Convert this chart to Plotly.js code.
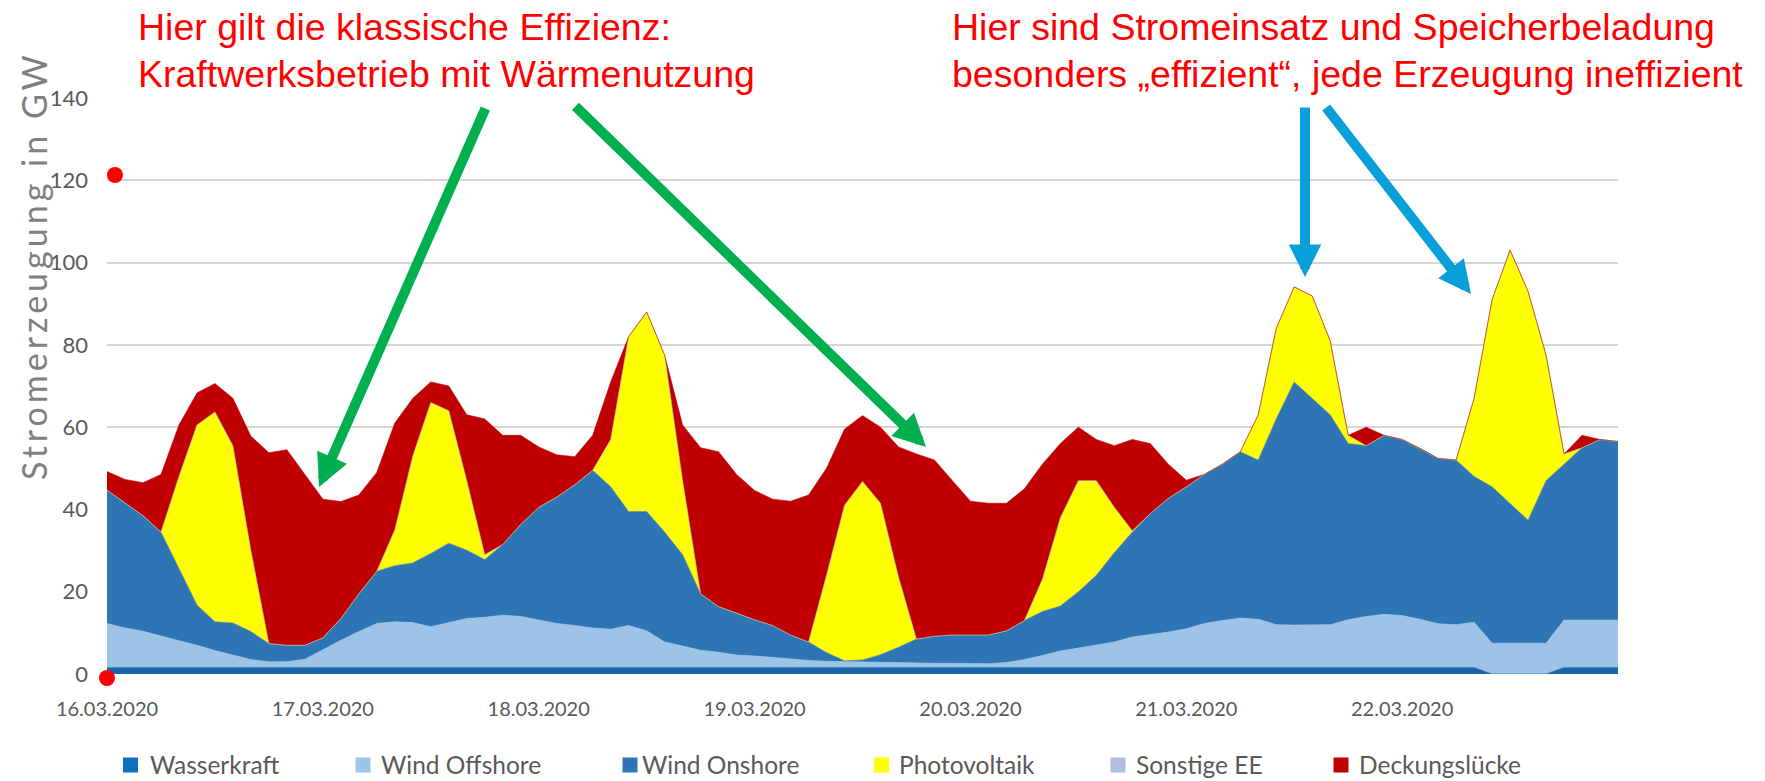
<!DOCTYPE html>
<html>
<head>
<meta charset="utf-8">
<script src="https://cdn.plot.ly/plotly-3.0.1.min.js"></script>
<style>
html, body { margin: 0; padding: 0; background: #ffffff; }
#chart { width: 1765px; height: 781px; }
g.annotation[data-index="8"] text { letter-spacing: 4px; }
</style>
</head>
<body>
<div id="chart"></div>
<script>
// ---- Data (2-hourly values, 16.03.2020 00:00 ... 23.03.2020 00:00), GW ----
const dayTicks  = ['2020-03-16', '2020-03-17', '2020-03-18', '2020-03-19', '2020-03-20', '2020-03-21', '2020-03-22'];
const dayLabels = ['16.03.2020', '17.03.2020', '18.03.2020', '19.03.2020', '20.03.2020', '21.03.2020', '22.03.2020'];
const seriesNames = ['Wasserkraft', 'Wind Offshore', 'Wind Onshore', 'Photovoltaik', 'Sonstige EE', 'Deckungslücke'];

const wasserkraft = [
  1.6,1.6,1.6,1.6,1.6,1.6,1.6,1.6,1.6,1.6,1.6,1.6,
  1.6,1.6,1.6,1.6,1.6,1.6,1.6,1.6,1.6,1.6,1.6,1.6,
  1.6,1.6,1.6,1.6,1.6,1.6,1.6,1.6,1.6,1.6,1.6,1.6,
  1.6,1.6,1.6,1.6,1.6,1.6,1.6,1.6,1.6,1.6,1.6,1.6,
  1.6,1.6,1.6,1.6,1.6,1.6,1.6,1.6,1.6,1.6,1.6,1.6,
  1.6,1.6,1.6,1.6,1.6,1.6,1.6,1.6,1.6,1.6,1.6,1.6,
  1.6,1.6,1.6,1.6,1.6,0,0,0,0,1.6,1.6,1.6,
  1.6
];
const windOffshore = [
  10.7,9.6,8.8,7.6,6.5,5.4,4.1,3.0,1.9,1.4,1.4,2.0,
  4.4,6.6,8.7,10.7,11.1,10.9,9.9,10.9,11.9,12.2,12.7,12.4,
  11.6,10.7,10.2,9.6,9.3,10.2,8.9,6.2,5.2,4.2,3.7,3.0,
  2.8,2.4,2.0,1.7,1.5,1.4,1.3,1.2,1.1,1.1,1.0,1.0,
  0.9,0.9,1.2,1.9,2.9,4.0,4.7,5.4,6.2,7.4,8.0,8.6,
  9.4,10.7,11.4,12.0,11.7,10.4,10.3,10.3,10.4,11.6,12.4,12.9,
  12.6,11.7,10.6,10.4,11.0,7.5,7.5,7.5,7.5,11.5,11.5,11.5,
  11.5
];
const windOnshore = [
  32.4,30.3,28.1,25.3,17.4,9.8,7.0,7.8,6.8,4.4,4.0,3.4,
  2.8,5.3,9.2,12.7,13.6,14.5,17.8,19.3,16.6,14.0,17.2,22.4,
  27.3,30.7,34.2,38.3,34.6,27.7,29.0,26.7,22.2,13.7,11.1,10.2,
  8.8,7.8,5.9,4.5,2.1,0.2,0.5,1.9,3.8,5.8,6.6,6.9,
  7.0,7.0,7.7,9.5,10.7,10.9,13.7,17.0,21.7,25.5,29.4,32.5,
  34.5,36.2,38.0,40.4,38.7,50.0,59.1,55.1,51.0,42.8,41.5,43.5,
  42.8,41.5,40.2,40.0,35.4,38.0,34.0,29.9,39.5,37.9,41.9,43.9,
  43.4
];
const photovoltaik = [
  0,0,0,0,22.5,43.7,51.0,43.1,19.7,0,0,0,
  0,0,0,0,8.7,26.0,36.7,32.2,16.9,1.2,0,0,
  0,0,0,0,11.5,42.5,48.5,43.0,18.0,0,0,0,
  0,0,0,0,18.8,37.8,43.4,36.8,17.1,0,0,0,
  0,0,0,0,7.8,21.5,27.0,23.0,11.0,0.3,0,0,
  0,0,0,0,11.0,22.0,23.1,24.9,18.0,2.0,0,0,
  0,0,0,0,19.0,45.5,61.5,55.6,30.5,2.5,0,0,
  0
];
const sonstigeEE = [
  0,0,0,0,0,0,0,0,0,0,0,0,
  0,0,0,0,0,0,0,0,0,0,0,0,
  0,0,0,0,0,0,0,0,0,0,0,0,
  0,0,0,0,0,0,0,0,0,0,0,0,
  0,0,0,0,0,0,0,0,0,0,0,0,
  0,0,0,0,0,0,0,0,0,0,0,0,
  0,0,0,0,0,0,0,0,0,0,0,0,
  0
];
const deckungsluecke = [
  4.5,5.8,8.0,14.0,12.5,7.8,6.9,11.5,27.8,46.4,47.5,41.5,
  33.7,28.4,24.0,24.0,26.0,14.0,5.0,6.0,16.0,33.0,26.5,21.6,
  14.7,10.3,6.8,8.5,14.0,0,0,0,13.5,35.5,37.6,33.7,
  31.4,30.7,32.5,35.7,26.0,18.5,16.0,18.5,31.6,45.0,42.8,37.5,
  32.5,32.0,31.0,32.0,28.0,18.0,13.0,10.0,15.0,22.2,17.0,8.3,
  1.6,0,0,0,0,0,0,0,0,0,4.5,0,
  0,0,0,0,0,0,0,0,0,0,3.0,0,
  0
];
const yTicks = [0, 20, 40, 60, 80, 100, 120, 140];

// ---- time axis ----
const times = [];
for (let i = 0; i < windOnshore.length; i++) {
  const h = i * 2;
  const d = 16 + Math.floor(h / 24);
  const hh = h % 24;
  times.push('2020-03-' + String(d).padStart(2, '0') + ' ' + String(hh).padStart(2, '0') + ':00');
}

const colors = ['#1A64AD', '#9DC3E6', '#2E75B6', '#FFFF00', '#B0BCE0', '#C00000'];
const legendColors = ['#1070BF', '#9DC3E6', '#2E75B6', '#FFFF00', '#B0BCE0', '#C00000'];
const values = [wasserkraft, windOffshore, windOnshore, photovoltaik, sonstigeEE, deckungsluecke];

const traces = values.map((v, i) => ({
  type: 'scatter',
  mode: 'lines',
  name: seriesNames[i],
  x: times,
  y: v,
  stackgroup: 'one',
  line: { width: 0.6, color: colors[i] },
  fillcolor: colors[i],
  showlegend: false,
  hoverinfo: 'skip'
}));

// ---- layout helpers (pixel -> paper) ----
const L = 107, R = 147, T = 98, B = 107, W = 1765, H = 781;
const PW = W - L - R, PH = H - T - B;
const px = X => (X - L) / PW;
const py = Y => (H - B - Y) / PH;

const redFont = { family: 'Liberation Sans, Arial, sans-serif', size: 37.5, color: '#FF0000' };
const annotations = [
  { text: 'Hier gilt die klassische Effizienz:', x: px(136), y: py(27), xanchor: 'left', yanchor: 'middle' },
  { text: 'Kraftwerksbetrieb mit Wärmenutzung', x: px(136), y: py(74), xanchor: 'left', yanchor: 'middle' },
  { text: 'Hier sind Stromeinsatz und Speicherbeladung', x: px(950), y: py(27), xanchor: 'left', yanchor: 'middle' },
  { text: 'besonders „effizient“, jede Erzeugung ineffizient', x: px(950), y: py(74), xanchor: 'left', yanchor: 'middle' }
].map(a => Object.assign(a, { xref: 'paper', yref: 'paper', showarrow: false, font: redFont }));

const arrows = [
  { tip: [319, 487], tail: [486, 107], color: '#00B050' },
  { tip: [926, 447], tail: [574, 105], color: '#00B050' },
  { tip: [1305, 277], tail: [1305, 106], color: '#0A9FD9' },
  { tip: [1471, 294], tail: [1325, 106], color: '#0A9FD9' }
];
arrows.forEach(a => annotations.push({
  xref: 'paper', yref: 'paper', x: px(a.tip[0]), y: py(a.tip[1]),
  ax: a.tail[0] - a.tip[0], ay: a.tail[1] - a.tip[1],
  text: '', showarrow: true, arrowhead: 2, arrowsize: 0.65, arrowwidth: 10,
  arrowcolor: a.color, standoff: 0
}));

// y-axis title (index 8)
annotations.push({
  xref: 'paper', yref: 'paper', x: px(33), y: py(266), xanchor: 'center', yanchor: 'middle',
  text: 'Stromerzeugung in GW', textangle: -90, showarrow: false,
  font: { family: 'Lato, sans-serif', size: 34, color: '#7F7F7F' }
});

// legend (manual)
const legendMarkerX = [130.5, 363, 630, 881.5, 1118, 1341];
const legendTextX = [148, 379, 640, 897, 1134, 1357];
const legendY = 765;
const shapes = [];
seriesNames.forEach((n, i) => {
  annotations.push({
    xref: 'paper', yref: 'paper', x: px(legendTextX[i]), y: py(legendY - 1),
    xanchor: 'left', yanchor: 'middle', text: n, showarrow: false,
    font: { family: 'Lato, sans-serif', size: 24.5, color: '#595959' }
  });
  shapes.push({
    type: 'rect', xref: 'paper', yref: 'paper', xsizemode: 'pixel', ysizemode: 'pixel',
    xanchor: px(legendMarkerX[i]), yanchor: py(legendY), x0: -7.5, x1: 7.5, y0: -7.5, y1: 7.5,
    fillcolor: legendColors[i], line: { width: 0 }, layer: 'above'
  });
});

// red dots
[[115, 175], [107, 678]].forEach(p => shapes.push({
  type: 'circle', xref: 'paper', yref: 'paper', xsizemode: 'pixel', ysizemode: 'pixel',
  xanchor: px(p[0]), yanchor: py(p[1]), x0: -8, x1: 8, y0: -8, y1: 8,
  fillcolor: '#FF0000', line: { width: 0 }, layer: 'above'
}));

const layout = {
  width: W, height: H,
  margin: { l: L, r: R, t: T, b: B, pad: 0 },
  paper_bgcolor: '#ffffff', plot_bgcolor: '#ffffff',
  showlegend: false,
  hovermode: false,
  xaxis: {
    type: 'date',
    range: ['2020-03-16 00:00', '2020-03-23 00:00'],
    tickvals: dayTicks, ticktext: dayLabels,
    showgrid: false, zeroline: false, showline: false, ticks: '',
    ticklabelstandoff: 21,
    tickfont: { family: 'Lato, sans-serif', size: 20, color: '#595959' },
    fixedrange: true
  },
  yaxis: {
    range: [0, 140],
    tickvals: yTicks,
    showgrid: true, gridcolor: '#D6D6D6', gridwidth: 2,
    zeroline: false, showline: false, ticks: '',
    ticklabelstandoff: 18,
    tickfont: { family: 'Lato, sans-serif', size: 22, color: '#595959' },
    fixedrange: true
  },
  annotations: annotations,
  shapes: shapes
};

Plotly.newPlot('chart', traces, layout, { staticPlot: true, displayModeBar: false });
</script>
</body>
</html>
